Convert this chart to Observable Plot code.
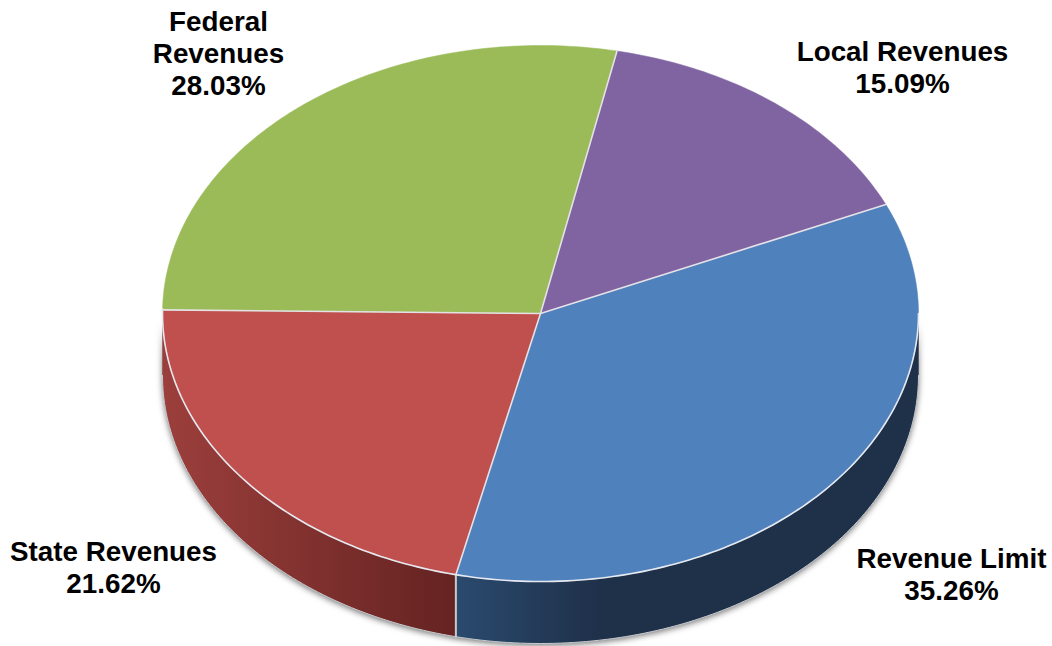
<!DOCTYPE html>
<html>
<head>
<meta charset="utf-8">
<script src="https://cdn.jsdelivr.net/npm/d3@7"></script>
<script src="https://cdn.jsdelivr.net/npm/@observablehq/plot@0.6"></script>
<style>html,body{margin:0;padding:0;background:#fff}svg{display:block}</style>
</head>
<body>
<div id="chart"></div>
<script>
// Data, clockwise from the blue slice
const names = ["Revenue Limit", "State Revenues", "Federal Revenues", "Local Revenues"];
const labelTexts = ["Revenue Limit", "State Revenues", "Federal\nRevenues", "Local Revenues"];
const shares = [35.26, 21.62, 28.03, 15.09];
const colors = ["#4f81bd", "#c0504d", "#9bbb59", "#8064a2"];
const wallLight = ["#2a4a6e", "#9c3f3c"];
const wallDark = ["#1f3049", "#642321"];

// Layout
const W = 1052, H = 646;
const cx = 540, cy = 313, rx = 378, ry = 268, depth = 62;
const startDeg = 66;
const labelAt = [[951, 573], [113, 566], [218, 52], [902, 66]];

const px = (deg, drop = 0) => {
  const a = deg * Math.PI / 180;
  return {x: cx + rx * Math.sin(a), y: cy - ry * Math.cos(a) + drop};
};
const arc = (a0, a1, drop = 0) => {
  const n = Math.max(2, Math.ceil(Math.abs(a1 - a0)));
  return d3.range(n + 1).map(i => px(a0 + (a1 - a0) * i / n, drop));
};

let acc = startDeg;
const slices = shares.map((v, i) => {
  const a0 = acc; acc += v * 3.6;
  return {name: names[i], a0, a1: acc, color: colors[i]};
});
const centre = {x: cx, y: cy};
const visible = (s) => [Math.max(s.a0, 90), Math.min(s.a1, 270)];
const walls = slices.slice(0, 2).map((s) => {
  const [a, b] = visible(s);
  return [...arc(a, b), ...arc(b, a, depth)];
});
const frontRim = arc(90, 271);
const rimWidth = 1.6;

const defs = () => {
  const svgNS = "http://www.w3.org/2000/svg";
  const d = document.createElementNS(svgNS, "defs");
  const grads = [
    {id: "wall0", x1: 455, x2: 600, c1: wallLight[0], c2: wallDark[0]},
    {id: "wall1", x1: 162, x2: 455, c1: wallLight[1], c2: wallDark[1]}
  ];
  grads.forEach(g => {
    const lg = document.createElementNS(svgNS, "linearGradient");
    lg.setAttribute("id", g.id);
    lg.setAttribute("gradientUnits", "userSpaceOnUse");
    lg.setAttribute("x1", g.x1); lg.setAttribute("x2", g.x2);
    lg.setAttribute("y1", 0); lg.setAttribute("y2", 0);
    [[0, g.c1], [1, g.c2]].forEach(([o, c]) => {
      const st = document.createElementNS(svgNS, "stop");
      st.setAttribute("offset", o); st.setAttribute("stop-color", c);
      lg.appendChild(st);
    });
    d.appendChild(lg);
  });
  return d;
};

const line = (pts, o) => Plot.line(pts, {x: "x", y: "y", curve: "linear", ...o});

const plot = Plot.plot({
  width: W, height: H, margin: 0,
  style: {background: "#fff"},
  x: {domain: [0, W], range: [0, W], axis: null},
  y: {domain: [0, H], range: [0, H], axis: null},
  marks: [
    defs,
    // side walls with soft shadow
    line([...arc(90, 270, depth), ...arc(270, 90)], {fill: "#555", stroke: "none", imageFilter: "drop-shadow(0px 2px 3px rgba(70,70,70,.75))"}),
    ...walls.map((w, i) => line([...w, w[0]], {fill: `url(#wall${i})`, stroke: "none"})),
    // lower wall edge and seam
    line(arc(90, 270, depth), {stroke: "#c9cdd2", strokeWidth: 1}),
    line([px(slices[0].a1), px(slices[0].a1, depth)], {stroke: "#c9c9c9", strokeWidth: 2}),
    // top face
    ...slices.map(s => line([centre, ...arc(s.a0, s.a1), centre], {fill: s.color, stroke: s.color, strokeWidth: 0.5})),
    // rim and separators
    line(frontRim, {stroke: "#e6e9f0", strokeWidth: rimWidth}),
    ...slices.map(s => line([centre, px(s.a0)], {stroke: "#e4e2e6", strokeWidth: rimWidth})),
    // labels
    Plot.text(slices.map((s, i) => ({text: `${labelTexts[i]}\n${shares[i].toFixed(2)}%`, x: labelAt[i][0], y: labelAt[i][1]})), {
      x: "x", y: "y", text: "text",
      fontFamily: "'Liberation Sans', Arial, sans-serif",
      fontWeight: "bold", fontSize: 27.8, lineHeight: 1.15, fill: "#000", textAnchor: "middle"
    })
  ]
});
document.getElementById("chart").appendChild(plot);
</script>
</body>
</html>
